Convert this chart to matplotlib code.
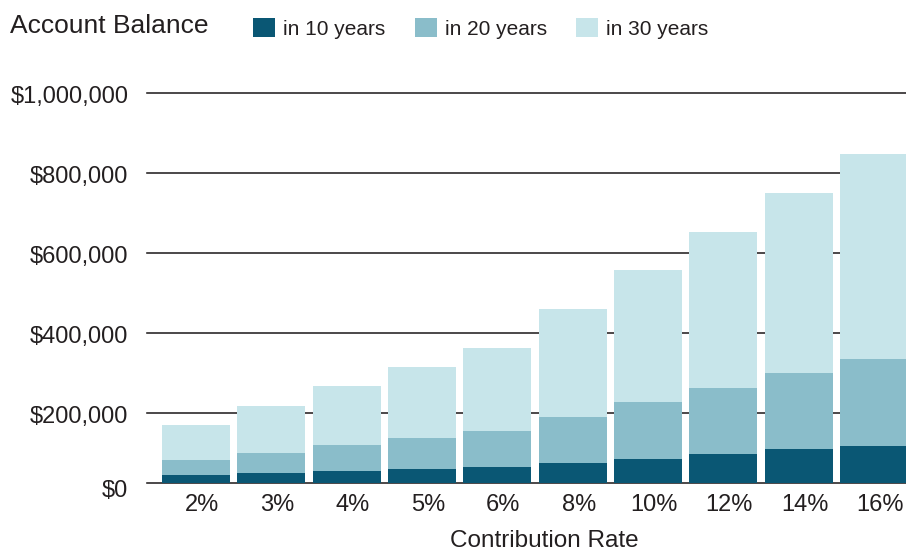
import matplotlib
matplotlib.use("Agg")
import matplotlib.pyplot as plt
import matplotlib.transforms as mtransforms
import numpy as np

plt.rcParams['font.family'] = ['Liberation Sans', 'DejaVu Sans']

# ---- data ----
categories = ["2%", "3%", "4%", "5%", "6%", "8%", "10%", "12%", "14%", "16%"]
in_10_years = [45800, 50800, 55800, 60800, 65800, 75800, 85800, 98300, 110800, 118300]
in_20_years = [83000, 100800, 120800, 138300, 155800, 190800, 228300, 263300, 300800, 335800]
in_30_years = [171000, 218000, 268000, 315800, 363300, 460800, 558300, 653300, 750800, 848300]
series_labels = ["in 10 years", "in 20 years", "in 30 years"]
y_ticks = [25000, 200000, 400000, 600000, 800000, 1000000]
y_tick_labels = ["$0", "$200,000", "$400,000", "$600,000", "$800,000", "$1,000,000"]

c10 = "#0a5774"
c20 = "#8abdca"
c30 = "#c7e5ea"
text_c = "#231f20"

W, H = 906, 550
fig = plt.figure(figsize=(W / 100, H / 100), dpi=100)
ax = fig.add_axes([147 / W, (H - 483.3) / H, (906 - 147) / W, (483.3 - 93.3) / H])

x = np.arange(len(categories))
bw = 68 / 75.33
b30 = ax.bar(x, in_30_years, width=bw, color=c30, zorder=3, label=series_labels[2])
b20 = ax.bar(x, in_20_years, width=bw, color=c20, zorder=4, label=series_labels[1])
b10 = ax.bar(x, in_10_years, width=bw, color=c10, zorder=5, label=series_labels[0])

ax.set_xlim(-0.6505, 9.425)
ax.set_ylim(y_ticks[0], y_ticks[-1])

for yv in y_ticks:
    ax.axhline(yv, color=text_c, lw=1.15, zorder=2, clip_on=False)

for s in ax.spines.values():
    s.set_visible(False)

ax.set_yticks(y_ticks)
ax.set_yticklabels(y_tick_labels, fontsize=17, color=text_c)
ax.set_xticks(x)
ax.set_xticklabels(categories, fontsize=17, color=text_c)
ax.tick_params(axis='y', length=0, pad=13.5)
ax.tick_params(axis='x', length=0, pad=8)

# small offsets of tick labels as in reference
for lab in ax.get_xticklabels():
    lab.set_transform(lab.get_transform() + mtransforms.ScaledTranslation(6 / 100, 0, fig.dpi_scale_trans))
for i, lab in enumerate(ax.get_yticklabels()):
    dy = -5 if i == 0 else -1.7
    lab.set_transform(lab.get_transform() + mtransforms.ScaledTranslation(0, dy / 100, fig.dpi_scale_trans))

fig.text(544.5 / W, (H - 546.7) / H, "Contribution Rate", fontsize=17.5, color=text_c,
         ha='center', va='baseline')
fig.text(10 / W, (H - 33.3) / H, "Account Balance", fontsize=19, color=text_c,
         ha='left', va='baseline')

leg = fig.legend(handles=[b10, b20, b30], labels=series_labels, loc='center left',
                 bbox_to_anchor=(253.3 / W, 1 - 28.5 / H), ncol=3, frameon=False,
                 fontsize=15, handlelength=1.04, handleheight=1.04, handletextpad=0.4,
                 columnspacing=1.41, borderpad=0, borderaxespad=0)
for t in leg.get_texts():
    t.set_color(text_c)

fig.savefig("out.png", dpi=100)
